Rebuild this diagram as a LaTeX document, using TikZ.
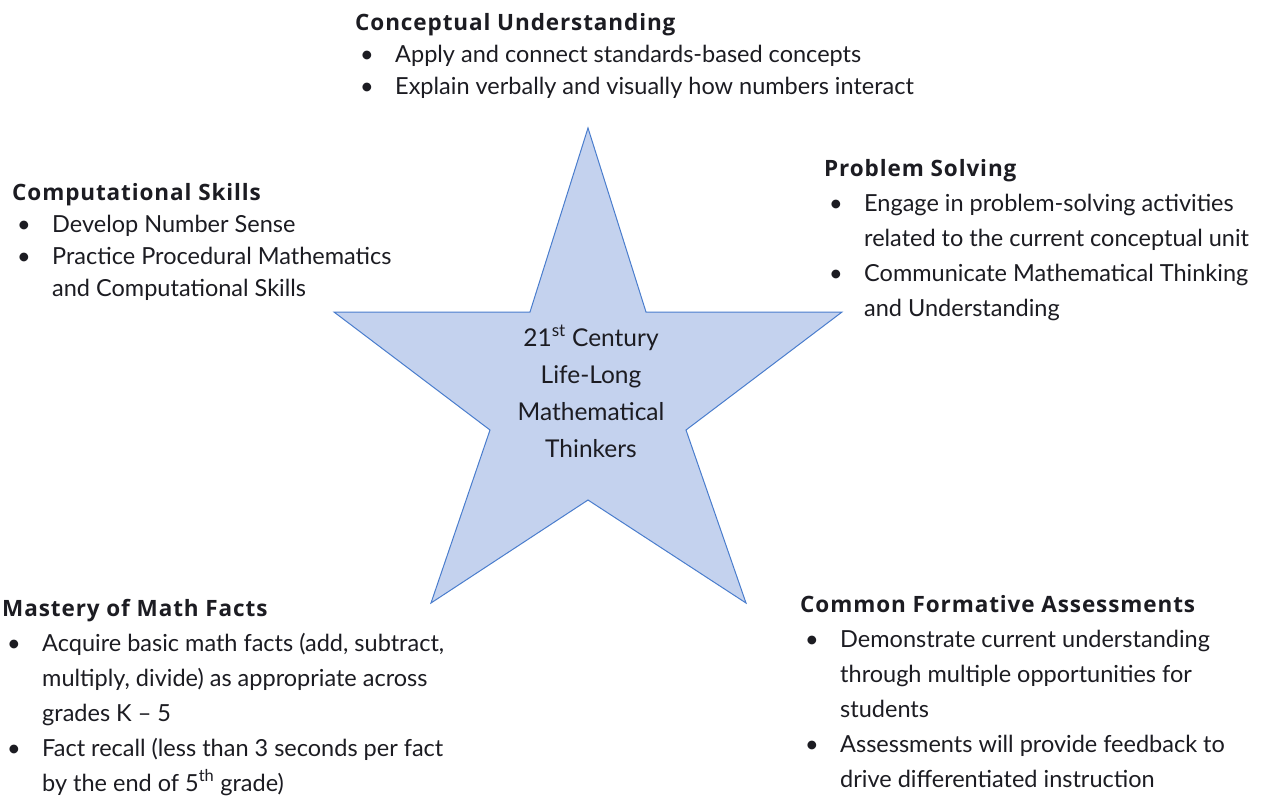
\documentclass[tikz,border=0pt]{standalone}
\usepackage{fontspec}
\setmainfont{Lato}
\newfontfamily\headfont{Open Sans}[LetterSpace=4]
\definecolor{starfill}{RGB}{196,210,238}
\definecolor{staredge}{RGB}{74,125,205}
\definecolor{ink}{RGB}{28,28,34}
\newcommand\bul{\makebox[40pt][l]{\hspace*{5pt}\textbullet}}
\newcommand\cont{\makebox[40pt][l]{}}
\newcommand\head[1]{\multicolumn{2}{@{}l@{}}{\headfont\bfseries\fontsize{22.5}{22.5}\selectfont #1}}
\tikzset{
  block/.style={anchor=base west, inner sep=0pt, text=ink,
    font=\fontsize{23.5}{35}\selectfont},
  tight/.style={font=\fontsize{23.5}{32}\selectfont},
  hubtext/.style={anchor=base, inner sep=0pt, text=ink,
    font=\fontsize{24.5}{37}\selectfont},
  starshape/.style={fill=starfill, draw=staredge, line width=1pt, line join=miter}
}
\begin{document}
\begin{tikzpicture}[x=1pt,y=-1pt]
\useasboundingbox[fill=white] (0,0) rectangle (1270,796);

% five-pointed star
\coordinate (sTop) at (588,128);
\coordinate (sUR)  at (646,312);
\coordinate (sR)   at (842,312);
\coordinate (sRi)  at (686,430);
\coordinate (sBR)  at (746,603);
\coordinate (sB)   at (588,500);
\coordinate (sBL)  at (431,603);
\coordinate (sLi)  at (490,430);
\coordinate (sL)   at (334,312);
\coordinate (sUL)  at (530,312);
\draw[starshape] (sTop) -- (sUR) -- (sR) -- (sRi) -- (sBR) -- (sB)
  -- (sBL) -- (sLi) -- (sL) -- (sUL) -- cycle;

\node[hubtext] (hub) at (591,346) {\begin{tabular}[t]{@{}c@{}}
  21\textsuperscript{st} Century\\ Life-Long\\ Mathematical\\ Thinkers\end{tabular}};

% top
\node[block, tight] (concept) at (355,30) {\begin{tabular}[t]{@{}l@{}l@{}}
  \head{Conceptual Understanding}\\
  \bul & Apply and connect standards-based concepts\\
  \bul & Explain verbally and visually how numbers interact
\end{tabular}};

% upper left
\node[block, tight] (comput) at (12,200) {\begin{tabular}[t]{@{}l@{}l@{}}
  \head{Computational Skills}\\
  \bul & Develop Number Sense\\
  \bul & Practice Procedural Mathematics\\
  \cont & and Computational Skills
\end{tabular}};

% upper right
\node[block] (problem) at (824,176) {\begin{tabular}[t]{@{}l@{}l@{}}
  \head{Problem Solving}\\
  \bul & Engage in problem-solving activities\\
  \cont & related to the current conceptual unit\\
  \bul & Communicate Mathematical Thinking\\
  \cont & and Understanding
\end{tabular}};

% lower left
\node[block] (mastery) at (2,616) {\begin{tabular}[t]{@{}l@{}l@{}}
  \head{Mastery of Math Facts}\\
  \bul & Acquire basic math facts (add, subtract,\\
  \cont & multiply, divide) as appropriate across\\
  \cont & grades K -- 5\\
  \bul & Fact recall (less than 3 seconds per fact\\
  \cont & by the end of 5\textsuperscript{th} grade)
\end{tabular}};

% lower right
\node[block] (assess) at (800,612) {\begin{tabular}[t]{@{}l@{}l@{}}
  \head{Common Formative Assessments}\\
  \bul & Demonstrate current understanding\\
  \cont & through multiple opportunities for\\
  \cont & students\\
  \bul & Assessments will provide feedback to\\
  \cont & drive differentiated instruction
\end{tabular}};
\end{tikzpicture}
\end{document}
